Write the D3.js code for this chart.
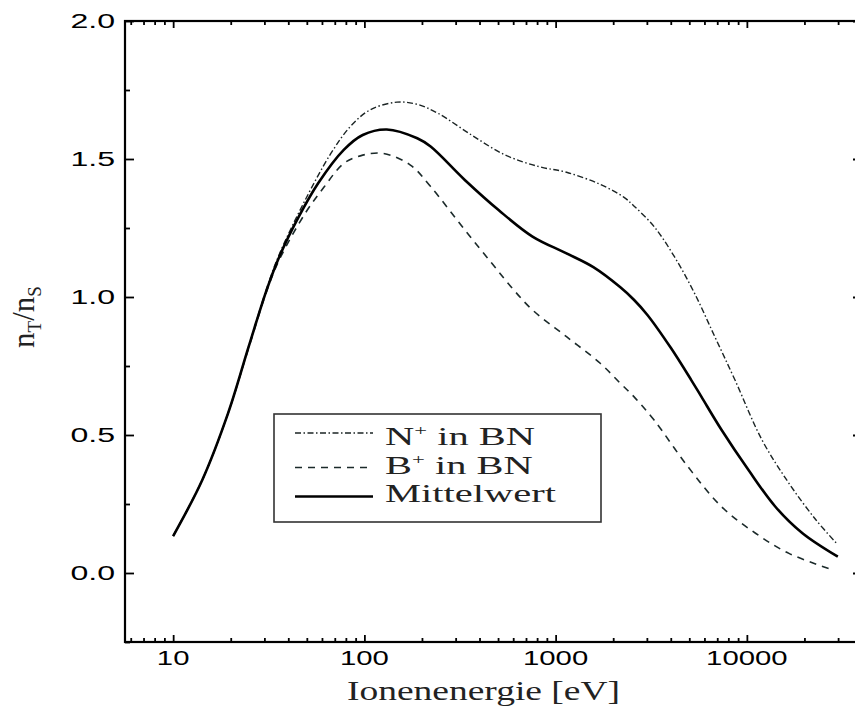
<!DOCTYPE html>
<html><head><meta charset="utf-8">
<script src="https://cdn.jsdelivr.net/npm/d3@7"></script>
<style>body{margin:0;background:#fff}svg{display:block}</style>
</head><body><svg id="c" width="855" height="706"></svg>
<script>
// ---- data ----
const energyN = [10, 14.2, 19.4, 24.8, 30.8, 35.9, 49, 66.8, 84.3, 107, 148, 189, 242, 363, 547, 822, 1140, 1710, 2270, 2566, 3273, 4180, 5330, 6800, 8670, 12000, 16600, 23000, 29400];
const valueN  = [0.134, 0.337, 0.58, 0.819, 1.03, 1.155, 1.351, 1.52, 1.617, 1.678, 1.706, 1.698, 1.666, 1.587, 1.514, 1.472, 1.452, 1.408, 1.362, 1.33, 1.255, 1.146, 1.013, 0.856, 0.699, 0.482, 0.325, 0.192, 0.108];

const energyB = [10, 14.2, 19.4, 24.8, 30.8, 35.9, 49, 61.8, 78, 98, 126, 174, 222, 335, 464, 593, 757, 1140, 1710, 2180, 2566, 3273, 4920, 7380, 11100, 16600, 28200];
const valueB  = [0.134, 0.337, 0.58, 0.815, 1.02, 1.135, 1.303, 1.40, 1.484, 1.514, 1.520, 1.478, 1.40, 1.243, 1.122, 1.032, 0.953, 0.856, 0.760, 0.687, 0.639, 0.554, 0.385, 0.240, 0.144, 0.071, 0.011];

const energyM = [10, 14.2, 19.4, 24.8, 30.8, 35.9, 45.4, 57.3, 78, 98, 131, 189, 222, 335, 503, 757, 1140, 1575, 2180, 2566, 3020, 4010, 5120, 5780, 7380, 10200, 14100, 19540, 29900];
const valueM  = [0.134, 0.337, 0.58, 0.819, 1.025, 1.146, 1.291, 1.412, 1.533, 1.587, 1.607, 1.575, 1.545, 1.424, 1.315, 1.219, 1.158, 1.108, 1.035, 0.99, 0.935, 0.815, 0.699, 0.639, 0.518, 0.373, 0.240, 0.144, 0.059];

const xMajorTicks = [10, 100, 1000, 10000];
const yMajorTicks = [0.0, 0.5, 1.0, 1.5, 2.0];
const yMinorTicks = [-0.25, 0.25, 0.75, 1.25, 1.75];
const xTitle = "Ionenenergie [eV]";
const legendNames = ["N", "B", "Mittelwert"];

// ---- layout ----
const svg = d3.select("#c");
const L = 125, R = 862, T = 21, B = 642;
const x = d3.scaleLog().domain([5.6, 40000]).range([L, R]);
const y = d3.scaleLinear().domain([-0.25, 2.0]).range([B, T]);

const xMinorTicks = [];
[1, 10, 100, 1000, 10000].forEach(d => {
  for (let k = 2; k <= 9; k++) {
    const v = k * d;
    if (v >= 5.6 && v <= 40000) xMinorTicks.push(v);
  }
});

// axes with inward ticks
function axisG(axis, tx, ty) {
  const g = svg.append("g").attr("transform", `translate(${tx},${ty})`).call(axis);
  g.select(".domain").remove();
  g.selectAll("line").attr("stroke", "#000").attr("stroke-width", 1.8);
  g.selectAll("text").remove();
  return g;
}
axisG(d3.axisBottom(x).tickValues(xMajorTicks).tickSize(-7), 0, B);
axisG(d3.axisBottom(x).tickValues(xMinorTicks).tickSize(-4), 0, B);
axisG(d3.axisTop(x).tickValues(xMajorTicks).tickSize(-7), 0, T);
axisG(d3.axisTop(x).tickValues(xMinorTicks).tickSize(-4), 0, T);
axisG(d3.axisLeft(y).tickValues(yMajorTicks).tickSize(-9), L, 0);
axisG(d3.axisLeft(y).tickValues(yMinorTicks).tickSize(-5), L, 0);
axisG(d3.axisRight(y).tickValues(yMajorTicks).tickSize(-9), R, 0);
axisG(d3.axisRight(y).tickValues(yMinorTicks).tickSize(-5), R, 0);

// frame
svg.append("rect").attr("x", L).attr("y", T).attr("width", R - L).attr("height", B - T)
  .attr("fill", "none").attr("stroke", "#000").attr("stroke-width", 2.2);

// tick labels
const digitW = 16.3, dotW = 10;
const tl = s => [...s].reduce((a, c) => a + (c === "." ? dotW : digitW), 0);
svg.append("g").selectAll("text").data(xMajorTicks).join("text")
  .attr("x", d => x(d)).attr("y", 665)
  .attr("text-anchor", "middle")
  .attr("font-family", "'Liberation Sans', Arial, sans-serif").attr("font-size", 19.5)
  .attr("textLength", d => tl(String(d))).attr("lengthAdjust", "spacingAndGlyphs")
  .text(d => String(d));
svg.append("g").selectAll("text").data(yMajorTicks).join("text")
  .attr("x", 115).attr("y", d => y(d) + 7)
  .attr("text-anchor", "end")
  .attr("font-family", "'Liberation Sans', Arial, sans-serif").attr("font-size", 19.5)
  .attr("textLength", d => tl(d.toFixed(1)) + 2).attr("lengthAdjust", "spacingAndGlyphs")
  .text(d => d.toFixed(1));

// axis titles
svg.append("text").attr("x", 347).attr("y", 700)
  .attr("font-family", "'Liberation Serif', 'Times New Roman', serif").attr("font-size", 28)
  .attr("textLength", 273).attr("lengthAdjust", "spacingAndGlyphs").attr("fill", "#222")
  .text(xTitle);
const yt = svg.append("text").attr("transform", "translate(34,317) rotate(-90)")
  .attr("text-anchor", "middle")
  .attr("font-family", "'Liberation Serif', 'Times New Roman', serif").attr("font-size", 31).attr("fill", "#222");
yt.append("tspan").text("n");
yt.append("tspan").attr("font-size", 19).attr("dy", 7).text("T");
yt.append("tspan").attr("dy", -7).text("/n");
yt.append("tspan").attr("font-size", 19).attr("dy", 7).text("S");

// curves
const line = d3.line().x(d => x(d[0])).y(d => y(d[1])).curve(d3.curveCatmullRom.alpha(0.5));
const zip = (a, b) => a.map((v, i) => [v, b[i]]);
const styles = [
  { data: zip(energyN, valueN), dash: "6,2.5,1.5,2.5", w: 1.4, c: "#1b2424" },
  { data: zip(energyB, valueB), dash: "7,6", w: 1.6, c: "#1b2a2a" },
  { data: zip(energyM, valueM), dash: null, w: 2.6, c: "#000" }
];
styles.forEach(s => {
  svg.append("path").attr("d", line(s.data)).attr("fill", "none")
    .attr("stroke", s.c).attr("stroke-width", s.w)
    .attr("stroke-dasharray", s.dash);
});

// legend
svg.append("rect").attr("x", 274).attr("y", 414).attr("width", 327).attr("height", 108)
  .attr("fill", "#fff").attr("stroke", "#333").attr("stroke-width", 1.6);
const legY = [433, 467.5, 496.5];
const legBase = [445, 474, 502];
styles.forEach((s, i) => {
  svg.append("line").attr("x1", 295).attr("x2", 373).attr("y1", legY[i]).attr("y2", legY[i])
    .attr("stroke", s.c).attr("stroke-width", s.w).attr("stroke-dasharray", s.dash);
  const g = svg.append("g").attr("transform", `translate(385,${legBase[i]}) scale(1.62,1)`);
  const t = g.append("text").attr("font-family", "'Liberation Serif', 'Times New Roman', serif")
    .attr("font-size", 25).attr("fill", "#222");
  t.append("tspan").text(legendNames[i]);
  if (i < 2) {
    t.append("tspan").attr("font-size", 14).attr("dy", -10).text("+");
    t.append("tspan").attr("dy", 10).text(" in BN");
  }
});
</script></body></html>
